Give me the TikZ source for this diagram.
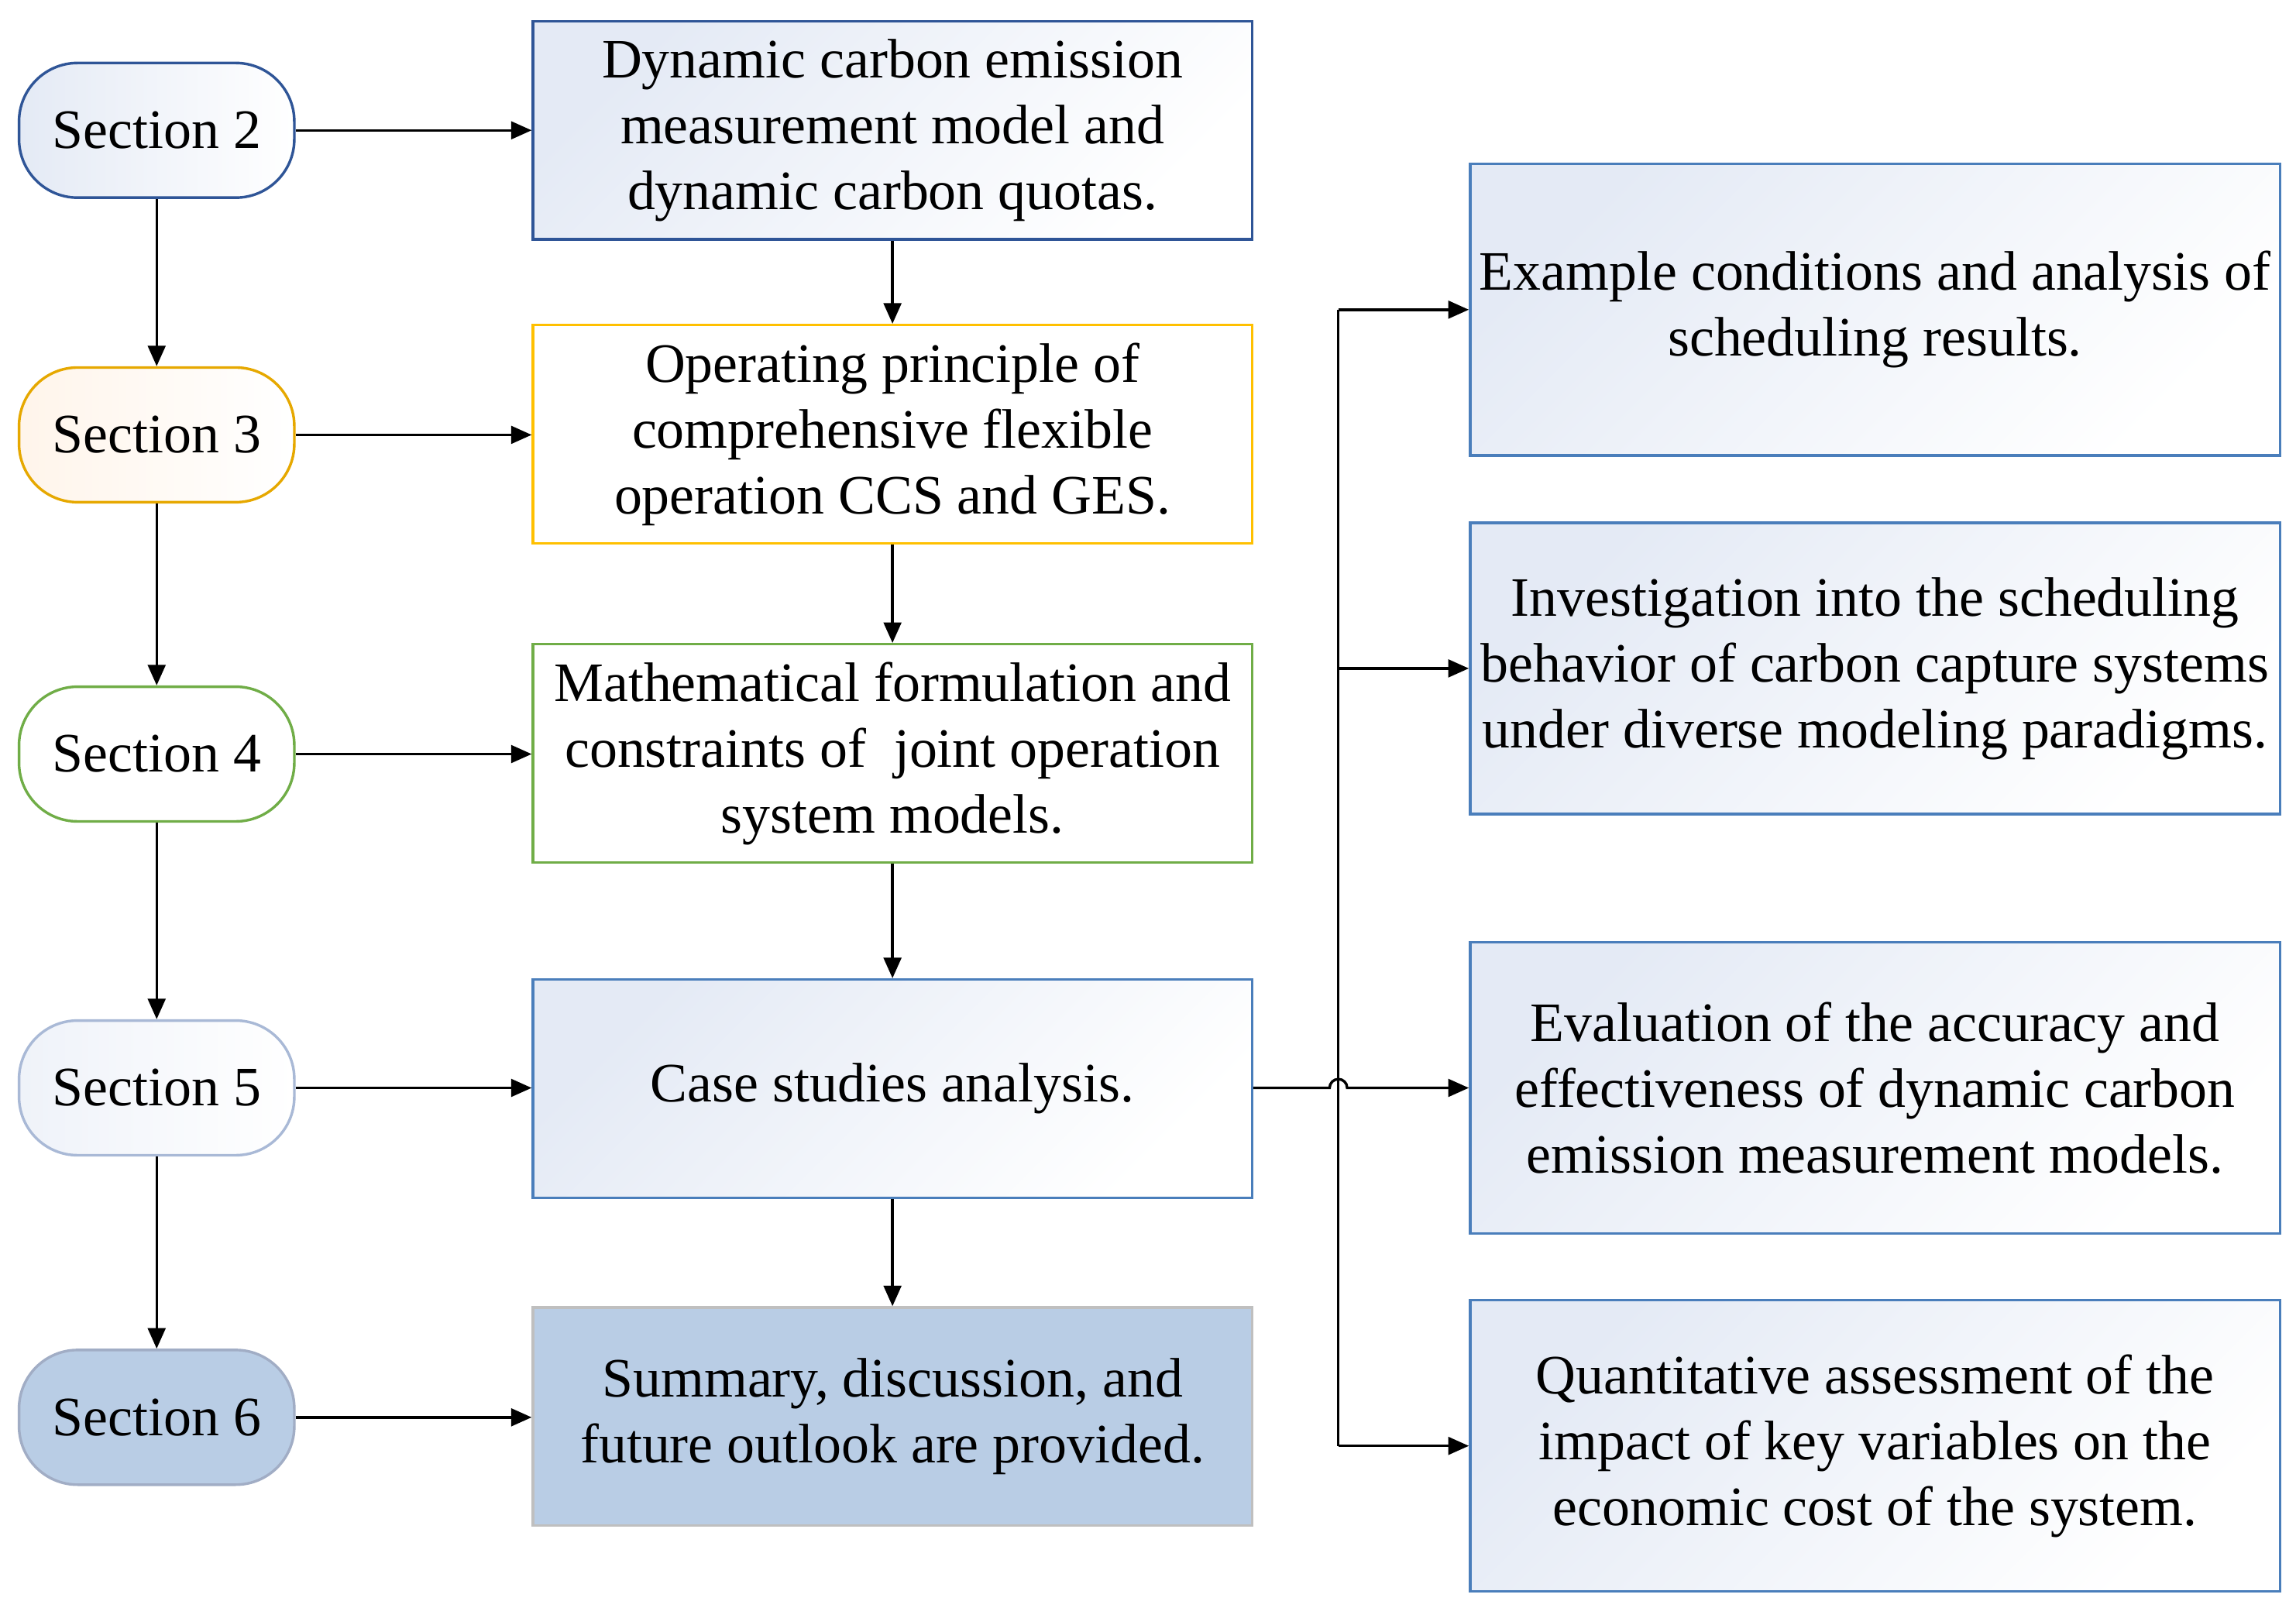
\documentclass[tikz,border=0pt]{standalone}
\usepackage{fontspec}
\setmainfont{Liberation Serif}
\usetikzlibrary{arrows.meta}
\definecolor{dblue}{HTML}{2F5597}
\definecolor{mblue}{HTML}{4A7EBB}
\definecolor{lfill}{HTML}{E4EAF5}
\definecolor{org}{HTML}{E6A800}
\definecolor{yel}{HTML}{FFC000}
\definecolor{grn}{HTML}{70AD47}
\definecolor{s5}{HTML}{A9B9D6}
\definecolor{s6}{HTML}{B9CDE5}
\begin{document}
\begin{tikzpicture}[x=0.5pt,y=-0.5pt,
  txt/.style={font=\fontsize{19}{22.5}\selectfont,align=center,inner sep=0pt},
  sec/.style={txt,draw,line width=0.9pt,rounded corners=20pt,minimum width=94pt,minimum height=46pt},
  box/.style={txt,draw,line width=0.9pt,minimum width=245.5pt,minimum height=74.5pt},
  rbox/.style={txt,draw=mblue,line width=0.9pt,minimum width=276.5pt,minimum height=99.5pt,
     left color=lfill,right color=white,shading angle=45},
  arr/.style={-{Triangle[length=7pt,width=6pt]},line width=0.9pt}]
\useasboundingbox (0,0) rectangle (1568,1098);
\node[sec,draw=dblue,left color=lfill,right color=white] (s2) at (107,89) {Section 2};
\node[sec,draw=org,left color=orange!8,right color=white] (s3) at (107,297) {Section 3};
\node[sec,draw=grn,fill=white] (s4) at (107,515) {Section 4};
\node[sec,draw=s5,left color=lfill!60,right color=white] (s5) at (107,743) {Section 5};
\node[sec,draw=s5!80!gray,fill=s6] (s6) at (107,968) {Section 6};
\node[box,draw=dblue,left color=lfill,right color=white,shading angle=45] (b1) at (609.5,89) {Dynamic carbon emission\\measurement model and\\dynamic carbon quotas.};
\node[box,draw=yel,fill=white] (b2) at (609.5,296.5) {Operating principle of\\comprehensive flexible\\operation CCS and GES.};
\node[box,draw=grn,fill=white] (b3) at (609.5,514.5) {Mathematical formulation and\\constraints of ~joint operation\\system models.};
\node[box,draw=mblue,left color=lfill,right color=white,shading angle=45] (b4) at (609.5,743.5) {Case studies analysis.};
\node[box,draw=gray!50,fill=s6] (b5) at (609.5,967.5) {Summary, discussion, and\\future outlook are provided.};
\node[rbox] (r1) at (1280.5,211.5) {Example conditions and analysis of\\scheduling results.};
\node[rbox] (r2) at (1280.5,456.5) {Investigation into the scheduling\\behavior of carbon capture systems\\under diverse modeling paradigms.};
\node[rbox] (r3) at (1280.5,743) {Evaluation of the accuracy and\\effectiveness of dynamic carbon\\emission measurement models.};
\node[rbox] (r4) at (1280.5,987.5) {Quantitative assessment of the\\impact of key variables on the\\economic cost of the system.};
\foreach \a/\b in {s2/s3,s3/s4,s4/s5,s5/s6,b1/b2,b2/b3,b3/b4,b4/b5} \draw[arr] (\a) -- (\b);
\foreach \a/\b in {s2/b1,s3/b2,s4/b3,s5/b4,s6/b5} \draw[arr] (\a.east) -- (\a.east -| \b.west);
\coordinate (t) at (914,211.5);
\coordinate (bt) at (914,987.5);
\draw[line width=0.9pt] (t) -- (bt);
\draw[arr] (t) -- (r1.west);
\draw[arr] (914,456.5) -- (r2.west);
\draw[arr] (bt) -- (r4.west);
\draw[arr] (b4.east |- r3.west) -- (908,743) arc[start angle=180,end angle=360,radius=6] -- (r3.west);
\end{tikzpicture}
\end{document}
